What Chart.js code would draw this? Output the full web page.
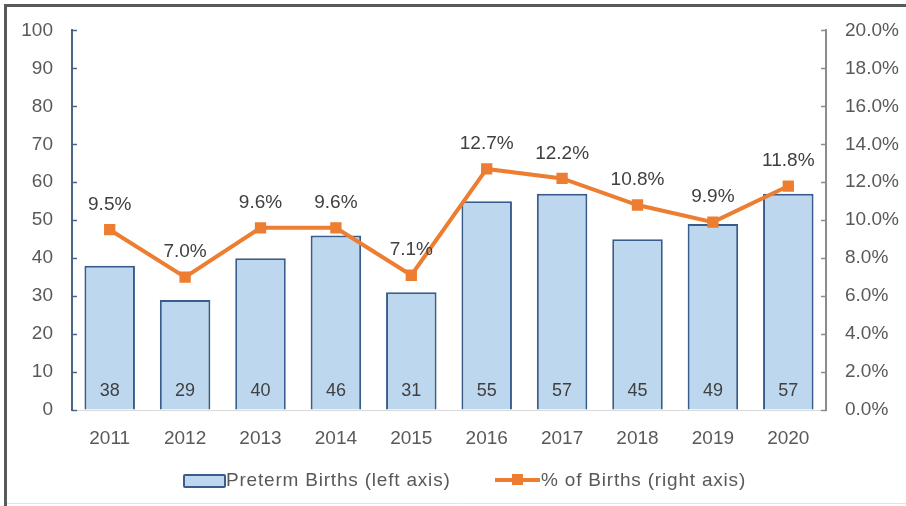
<!DOCTYPE html>
<html>
<head>
<meta charset="utf-8">
<script src="https://cdn.jsdelivr.net/npm/chart.js@4/dist/chart.umd.min.js"></script>
<style>
  body { margin: 0; background: #fff; font-family: "Liberation Sans", Arial, sans-serif; }
  #wrap { position: relative; width: 906px; height: 506px; overflow: hidden; }
  #myChart { position: absolute; left: 0; top: 0; }
  .leg { position: absolute; font-size: 19px; color: #595959; line-height: 22px; letter-spacing: 0.8px; }
  .swBar { position: absolute; left: 183px; top: 474px; width: 39px; height: 10px; background: #bdd7ee; border: 2px solid #385d8a; border-radius: 2px; }
  .swLine { position: absolute; left: 495px; top: 478px; width: 45px; height: 4px; background: #ed7d31; }
  .swMark { position: absolute; left: 512px; top: 474px; width: 11px; height: 11px; background: #ed7d31; }
</style>
</head>
<body>
<div id="wrap">
  <canvas id="myChart" width="906" height="506"></canvas>
  <div class="swBar"></div>
  <div class="leg" style="left:226px; top:469px;">Preterm Births (left axis)</div>
  <div class="swLine"></div>
  <div class="swMark"></div>
  <div class="leg" style="left:541px; top:469px;">% of Births (right axis)</div>
</div>
<script>
// årtal på x-axeln
const years = ['2011', '2012', '2013', '2014', '2015', '2016', '2017', '2018', '2019', '2020'];
// antal för tidigt födda (vänster axel)
const pretermBirths = [38, 29, 40, 46, 31, 55, 57, 45, 49, 57];
// andel av födslar i procent (höger axel)
const pctBirths = [9.5, 7.0, 9.6, 9.6, 7.1, 12.7, 12.2, 10.8, 9.9, 11.8];

const textGray = '#595959';
const labelGray = '#404040';
const leftAxisColor = '#4a6486';
const rightAxisColor = '#8c8c8c';

// ritar värdena i staplarna och ovanför punkterna
const valueLabels = {
  id: 'valueLabels',
  afterDatasetsDraw(chart) {
    const ctx = chart.ctx;
    const y0 = chart.scales.y.getPixelForValue(0);
    ctx.save();
    ctx.textAlign = 'center';
    ctx.textBaseline = 'middle';
    // staplarnas värden nere i stapeln
    ctx.font = '18px "Liberation Sans", Arial, sans-serif';
    ctx.fillStyle = labelGray;
    chart.getDatasetMeta(0).data.forEach((bar, i) => {
      ctx.fillText(pretermBirths[i], bar.x, y0 - 19);
    });
    // procenten ovanför linjen
    ctx.font = '19px "Liberation Sans", Arial, sans-serif';
    chart.getDatasetMeta(1).data.forEach((pt, i) => {
      ctx.fillText(pctBirths[i].toFixed(1) + '%', pt.x, pt.y - 25);
    });
    ctx.restore();
  }
};

// små streck på axlarna som pekar in mot diagrammet
const innerTicks = {
  id: 'innerTicks',
  afterDraw(chart) {
    const ctx = chart.ctx;
    const area = chart.chartArea;
    ctx.save();
    ctx.lineWidth = 1.5;
    ctx.strokeStyle = leftAxisColor;
    chart.scales.y.ticks.forEach(t => {
      const y = Math.round(chart.scales.y.getPixelForValue(t.value)) + 0.5;
      ctx.beginPath();
      ctx.moveTo(area.left, y);
      ctx.lineTo(area.left + 5, y);
      ctx.stroke();
    });
    ctx.strokeStyle = rightAxisColor;
    chart.scales.y1.ticks.forEach(t => {
      const y = Math.round(chart.scales.y1.getPixelForValue(t.value)) + 0.5;
      ctx.beginPath();
      ctx.moveTo(area.right, y);
      ctx.lineTo(area.right - 5, y);
      ctx.stroke();
    });
    ctx.restore();
  }
};

// ram runt bilden (vänster och överkant syns)
const frame = {
  id: 'frame',
  afterDraw(chart) {
    const ctx = chart.ctx;
    ctx.save();
    ctx.strokeStyle = '#5a5a5a';
    ctx.lineWidth = 3;
    ctx.beginPath();
    ctx.moveTo(5.5, 506);
    ctx.lineTo(5.5, 5.5);
    ctx.lineTo(906, 5.5);
    ctx.stroke();
    ctx.strokeStyle = '#e4e4e4';
    ctx.lineWidth = 1;
    ctx.beginPath();
    ctx.moveTo(7, 503.5);
    ctx.lineTo(906, 503.5);
    ctx.stroke();
    ctx.restore();
  }
};

const ctx = document.getElementById('myChart').getContext('2d');
const myChart = new Chart(ctx, {
  type: 'bar',
  data: {
    labels: years,
    datasets: [{
      type: 'bar',
      label: 'Preterm Births (left axis)',
      data: pretermBirths,
      backgroundColor: '#bdd7ee',
      borderColor: '#385d8a',
      borderWidth: 2,
      borderSkipped: 'bottom',
      categoryPercentage: 1,
      barPercentage: 0.67,
      yAxisID: 'y',
      order: 2
    }, {
      type: 'line',
      label: '% of Births (right axis)',
      data: pctBirths,
      borderColor: '#ed7d31',
      backgroundColor: '#ed7d31',
      borderWidth: 4,
      pointStyle: 'rect',
      pointRadius: 8,
      pointBorderWidth: 0,
      tension: 0,
      yAxisID: 'y1',
      order: 1
    }]
  },
  options: {
    responsive: false,
    animation: false,
    layout: { padding: { top: 30, left: 0, right: 0, bottom: 0 } },
    plugins: {
      legend: { display: false },
      tooltip: { enabled: false }
    },
    scales: {
      x: {
        grid: { display: false, drawTicks: false },
        border: { display: true, color: '#d9d9d9', width: 1 },
        ticks: { color: textGray, font: { size: 19, family: '"Liberation Sans", Arial' }, padding: 17 },
        afterFit(scale) { scale.height = 96; }
      },
      y: {
        position: 'left',
        min: 0,
        max: 100,
        ticks: { stepSize: 10, color: textGray, font: { size: 19, family: '"Liberation Sans", Arial' }, padding: 19 },
        grid: { drawOnChartArea: false, drawTicks: false },
        border: { display: true, color: leftAxisColor, width: 2 },
        afterFit(scale) { scale.width = 72; }
      },
      y1: {
        position: 'right',
        min: 0,
        max: 20,
        ticks: {
          stepSize: 2,
          color: textGray,
          font: { size: 19, family: '"Liberation Sans", Arial' },
          padding: 19,
          callback: v => v.toFixed(1) + '%'
        },
        grid: { drawOnChartArea: false, drawTicks: false },
        border: { display: true, color: rightAxisColor, width: 2 },
        afterFit(scale) { scale.width = 80; }
      }
    }
  },
  plugins: [valueLabels, innerTicks, frame]
});
</script>
</body>
</html>
